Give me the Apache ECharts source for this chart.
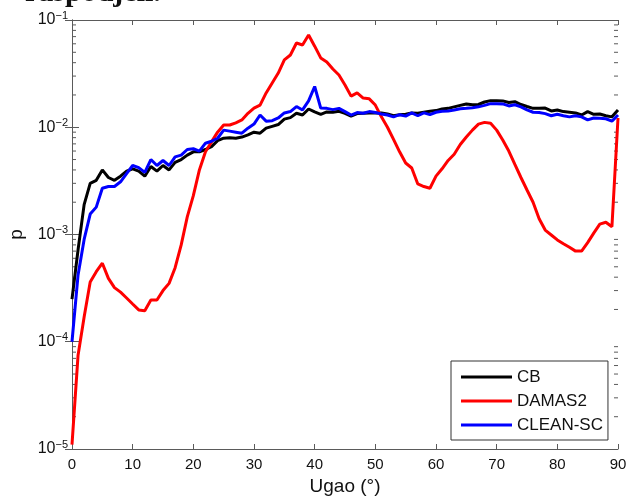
<!DOCTYPE html>
<html>
<head>
<meta charset="utf-8">
<script src="https://cdn.jsdelivr.net/npm/echarts@6/dist/echarts.min.js"></script>
<style>
  html, body { margin: 0; padding: 0; background: #fff; }
  #chart { width: 636px; height: 496px; }
</style>
</head>
<body>
<div id="chart"></div>
<script>
// angle in degrees, one sample per degree
var angles = [0, 1, 2, 3, 4, 5, 6, 7, 8, 9, 10, 11, 12, 13, 14, 15, 16, 17, 18, 19,
  20, 21, 22, 23, 24, 25, 26, 27, 28, 29, 30, 31, 32, 33, 34, 35, 36, 37, 38, 39,
  40, 41, 42, 43, 44, 45, 46, 47, 48, 49, 50, 51, 52, 53, 54, 55, 56, 57, 58, 59,
  60, 61, 62, 63, 64, 65, 66, 67, 68, 69, 70, 71, 72, 73, 74, 75, 76, 77, 78, 79,
  80, 81, 82, 83, 84, 85, 86, 87, 88, 89, 90]

var cb = [2.5e-4, 7.2e-4, 1.9e-3, 3.0e-3, 3.2e-3, 4.0e-3, 3.4e-3, 3.2e-3, 3.5e-3, 3.9e-3,
  4.1e-3, 3.9e-3, 3.5e-3, 4.3e-3, 3.9e-3, 4.4e-3, 4.0e-3, 4.7e-3, 5.0e-3, 5.5e-3,
  5.9e-3, 5.9e-3, 6.2e-3, 6.6e-3, 7.5e-3, 7.9e-3, 8.0e-3, 7.9e-3, 8.1e-3, 8.5e-3,
  9.0e-3, 8.8e-3, 9.8e-3, 1.02e-2, 1.06e-2, 1.19e-2, 1.23e-2, 1.35e-2, 1.30e-2, 1.48e-2,
  1.39e-2, 1.32e-2, 1.39e-2, 1.38e-2, 1.41e-2, 1.35e-2, 1.27e-2, 1.34e-2, 1.35e-2, 1.36e-2,
  1.36e-2, 1.36e-2, 1.33e-2, 1.28e-2, 1.31e-2, 1.32e-2, 1.36e-2, 1.35e-2, 1.38e-2, 1.41e-2,
  1.43e-2, 1.48e-2, 1.50e-2, 1.55e-2, 1.60e-2, 1.65e-2, 1.62e-2, 1.63e-2, 1.72e-2, 1.77e-2,
  1.77e-2, 1.76e-2, 1.70e-2, 1.73e-2, 1.63e-2, 1.56e-2, 1.50e-2, 1.50e-2, 1.51e-2, 1.42e-2,
  1.45e-2, 1.40e-2, 1.38e-2, 1.36e-2, 1.30e-2, 1.40e-2, 1.32e-2, 1.33e-2, 1.28e-2, 1.25e-2,
  1.45e-2]

var damas2 = [1.1e-5, 7.5e-5, 1.7e-4, 3.6e-4, 4.5e-4, 5.4e-4, 3.9e-4, 3.2e-4, 2.9e-4, 2.56e-4,
  2.25e-4, 1.98e-4, 1.95e-4, 2.45e-4, 2.45e-4, 3.0e-4, 3.5e-4, 4.9e-4, 8.0e-4, 1.46e-3,
  2.3e-3, 4.0e-3, 5.9e-3, 7.3e-3, 9.0e-3, 1.05e-2, 1.05e-2, 1.10e-2, 1.17e-2, 1.35e-2,
  1.51e-2, 1.61e-2, 2.09e-2, 2.59e-2, 3.2e-2, 4.24e-2, 4.72e-2, 6.1e-2, 5.85e-2, 7.25e-2,
  5.7e-2, 4.43e-2, 4.06e-2, 3.49e-2, 3.07e-2, 2.48e-2, 1.95e-2, 2.09e-2, 1.87e-2, 1.84e-2,
  1.61e-2, 1.25e-2, 1.0e-2, 7.7e-3, 5.9e-3, 4.64e-3, 4.17e-3, 2.96e-3, 2.8e-3, 2.7e-3,
  3.5e-3, 4.1e-3, 4.9e-3, 5.6e-3, 6.9e-3, 8.1e-3, 9.4e-3, 1.07e-2, 1.11e-2, 1.09e-2,
  9.4e-3, 7.6e-3, 6.0e-3, 4.5e-3, 3.4e-3, 2.6e-3, 2.0e-3, 1.4e-3, 1.1e-3, 9.9e-4,
  8.9e-4, 8.2e-4, 7.6e-4, 7.0e-4, 7.0e-4, 8.4e-4, 1.03e-3, 1.25e-3, 1.3e-3, 1.18e-3,
  1.22e-2]

var cleanSc = [1.0e-4, 4.2e-4, 9.0e-4, 1.55e-3, 1.8e-3, 2.7e-3, 2.8e-3, 2.8e-3, 3.1e-3, 3.7e-3,
  4.4e-3, 4.2e-3, 3.8e-3, 5.0e-3, 4.4e-3, 4.9e-3, 4.4e-3, 5.3e-3, 5.5e-3, 6.2e-3,
  6.3e-3, 6.0e-3, 7.1e-3, 7.4e-3, 7.9e-3, 9.4e-3, 9.2e-3, 9.0e-3, 8.8e-3, 9.8e-3,
  1.07e-2, 1.30e-2, 1.14e-2, 1.15e-2, 1.22e-2, 1.36e-2, 1.40e-2, 1.56e-2, 1.45e-2, 1.76e-2,
  2.40e-2, 1.51e-2, 1.50e-2, 1.46e-2, 1.50e-2, 1.40e-2, 1.30e-2, 1.37e-2, 1.35e-2, 1.40e-2,
  1.37e-2, 1.33e-2, 1.30e-2, 1.25e-2, 1.31e-2, 1.27e-2, 1.36e-2, 1.28e-2, 1.36e-2, 1.31e-2,
  1.38e-2, 1.41e-2, 1.42e-2, 1.45e-2, 1.49e-2, 1.50e-2, 1.52e-2, 1.55e-2, 1.60e-2, 1.66e-2,
  1.66e-2, 1.65e-2, 1.58e-2, 1.62e-2, 1.55e-2, 1.45e-2, 1.38e-2, 1.37e-2, 1.34e-2, 1.28e-2,
  1.32e-2, 1.28e-2, 1.25e-2, 1.28e-2, 1.25e-2, 1.17e-2, 1.22e-2, 1.21e-2, 1.20e-2, 1.14e-2,
  1.30e-2]

// log decades on the y axis and the 2..9 minor marks between them
var yDecades = [1e-5, 1e-4, 1e-3, 1e-2, 1e-1]
var minorMantissas = [2, 3, 4, 5, 6, 7, 8, 9]

var axisColor = '#5a5a5a'
var font = 'Liberation Sans, Arial, sans-serif'

function pairs(ys) {
  return angles.map(function (a, i) { return [a, ys[i]] })
}

var minorTicks = []
yDecades.slice(0, -1).forEach(function (d) {
  minorMantissas.forEach(function (m) { minorTicks.push([0, m * d]) })
})

var chart = echarts.init(document.getElementById('chart'), null, {renderer: 'canvas'})

var tickLabel = {
  color: '#111',
  fontFamily: font
}

var option = {
  animation: false,
  backgroundColor: '#fff',
  grid: {left: 72, top: 20, right: 18, bottom: 47, outerBoundsMode: 'none', containLabel: false},
  graphic: [{
    type: 'text',
    x: 25,
    y: -22,
    style: {text: 'raspodjeli.', font: 'bold 30px "Liberation Serif", serif', fill: '#111'}
  }],
  legend: {
    data: ['CB', 'DAMAS2', 'CLEAN-SC'],
    orient: 'vertical',
    left: 451,
    top: 361,
    padding: [6, 5, 5, 10],
    itemGap: 4,
    itemWidth: 51,
    itemHeight: 3,
    icon: 'rect',
    borderColor: '#333',
    borderWidth: 1,
    borderRadius: 0,
    backgroundColor: '#fff',
    textStyle: {fontSize: 17, color: '#111', fontFamily: font, lineHeight: 20}
  },
  xAxis: [{
    type: 'value',
    min: 0, max: 90, interval: 10,
    name: 'Ugao (°)',
    nameLocation: 'middle',
    nameGap: 25,
    nameTextStyle: {fontSize: 19, color: '#111', fontFamily: font},
    axisLine: {lineStyle: {color: axisColor, width: 1}},
    axisTick: {inside: true, length: 5, lineStyle: {color: axisColor}},
    axisLabel: Object.assign({fontSize: 15, margin: 8}, tickLabel),
    splitLine: {show: false}
  }, {
    type: 'value',
    position: 'top',
    min: 0, max: 90, interval: 10,
    axisLine: {lineStyle: {color: axisColor, width: 1}},
    axisTick: {inside: true, length: 5, lineStyle: {color: axisColor}},
    axisLabel: {show: false},
    splitLine: {show: false}
  }],
  yAxis: [{
    type: 'log',
    logBase: 10,
    min: 1e-5, max: 1e-1,
    name: 'p',
    nameLocation: 'middle',
    nameGap: 45,
    nameTextStyle: {fontSize: 19, color: '#111', fontFamily: font},
    axisLine: {show: true, lineStyle: {color: axisColor, width: 1}},
    axisTick: {inside: true, length: 7, lineStyle: {color: axisColor}},
    axisLabel: {
      margin: 4,
      formatter: function (v) {
        var e = Math.round(Math.log10(v))
        return '{b|10}{s|\u2212' + Math.abs(e) + '}'
      },
      rich: {
        b: {fontSize: 16, color: '#111', fontFamily: font, lineHeight: 20},
        s: {fontSize: 11, color: '#111', fontFamily: font, lineHeight: 12, verticalAlign: 'top'}
      }
    },
    splitLine: {show: false}
  }, {
    type: 'log',
    logBase: 10,
    position: 'right',
    min: 1e-5, max: 1e-1,
    axisLine: {show: true, lineStyle: {color: axisColor, width: 1}},
    axisTick: {inside: true, length: 7, lineStyle: {color: axisColor}},
    axisLabel: {show: false},
    splitLine: {show: false}
  }],
  series: [{
    name: 'CB',
    type: 'line',
    data: pairs(cb),
    showSymbol: false,
    symbol: 'none',
    lineStyle: {color: '#000', width: 3},
    itemStyle: {color: '#000'}
  }, {
    name: 'DAMAS2',
    type: 'line',
    data: pairs(damas2),
    showSymbol: false,
    symbol: 'none',
    lineStyle: {color: '#ff0000', width: 3},
    itemStyle: {color: '#ff0000'}
  }, {
    name: 'CLEAN-SC',
    type: 'line',
    data: pairs(cleanSc),
    showSymbol: false,
    symbol: 'none',
    lineStyle: {color: '#0000ff', width: 3},
    itemStyle: {color: '#0000ff'}
  }, {
    // minor log ticks on the left and right frame
    type: 'custom',
    silent: true,
    data: minorTicks,
    encode: {x: 0, y: 1},
    renderItem: function (params, api) {
      var v = api.value(1)
      var l = api.coord([0, v])
      var r = api.coord([90, v])
      var st = {stroke: axisColor, lineWidth: 1}
      return {
        type: 'group',
        children: [
          {type: 'line', shape: {x1: l[0], y1: l[1], x2: l[0] + 4, y2: l[1]}, style: st},
          {type: 'line', shape: {x1: r[0] - 4, y1: r[1], x2: r[0], y2: r[1]}, style: st}
        ]
      }
    }
  }]
}

chart.setOption(option)
</script>
</body>
</html>
